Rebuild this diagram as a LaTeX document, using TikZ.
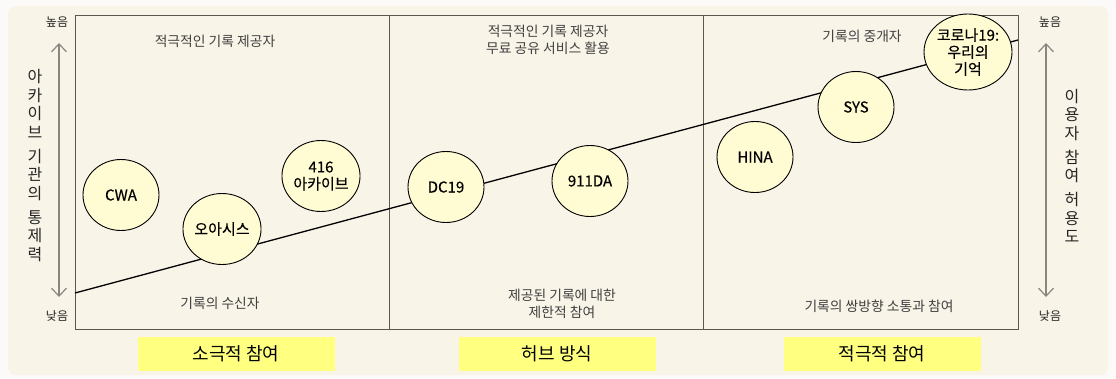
\documentclass[tikz,border=0pt]{standalone}
\usepackage{fontspec}
\setmainfont{Noto Sans CJK KR}
\newfontfamily\medfont[FakeBold=0.4]{Noto Sans CJK KR}
\usetikzlibrary{shapes.geometric,arrows.meta}
\definecolor{pagebg}{HTML}{FCFAF8}
\definecolor{cream}{HTML}{F9F4E8}
\definecolor{framegray}{HTML}{5E5650}
\definecolor{bubblefill}{HTML}{FFFBD2}
\definecolor{hilite}{HTML}{FFFF80}
\definecolor{axisgray}{HTML}{8A8580}

\begin{document}
\begin{tikzpicture}[x=1pt,y=-1pt,
  bubble/.style={ellipse, draw=black, line width=0.9pt, fill=bubblefill, minimum width=76pt, minimum height=71pt, inner sep=0pt, align=center, font=\medfont\fontsize{15}{17}\selectfont},
  role/.style={align=center, text=black!75, inner sep=0pt, font=\fontsize{13.8}{17}\selectfont},
  stage/.style={fill=hilite, minimum width=197pt, minimum height=34pt, inner sep=0pt, font=\fontsize{18}{20}\selectfont},
  level/.style={inner sep=0pt, text=black!85, font=\fontsize{12}{13}\selectfont},
  axistext/.style={align=center, inner sep=0pt, text=black!85, font=\fontsize{16}{18.5}\selectfont},
  axisarrow/.style={draw=axisgray, line width=1.2pt, {Straight Barb[length=8pt,width=15pt]}-{Straight Barb[length=8pt,width=15pt]}}]

  % background
  \useasboundingbox (0,0) rectangle (1116,378);
  \fill[pagebg] (0,0) rectangle (1116,378);
  \fill[cream, rounded corners=8pt] (8,6) rectangle (1108,375);

  % frame and panels
  \draw[framegray, line width=1pt] (75,15) rectangle (1018,329);
  \draw[framegray, line width=1pt] (389,15) -- (389,329);
  \draw[framegray, line width=1pt] (703,15) -- (703,329);

  % trend
  \coordinate (lo) at (75,293);
  \coordinate (hi) at (1018,40);
  \draw[line width=1.3pt] (lo) -- (hi);

  % archives
  \node[bubble] (cwa) at (121,195) {CWA};
  \node[bubble] (oasis) at (222,229) {오아시스};
  \node[bubble] (a416) at (321,176) {416\\아카이브};
  \node[bubble] (dc19) at (446,187) {DC19};
  \node[bubble] (da911) at (590,181) {911DA};
  \node[bubble] (hina) at (755,157) {HINA};
  \node[bubble] (sys) at (856,107) {SYS};
  \node[bubble, minimum height=76pt] (covid) at (968,52) {코로나19:\\우리의\\기억};

  % roles
  \node[role] (top1) at (215,41) {적극적인 기록 제공자};
  \node[role] (bot1) at (220,303) {기록의 수신자};
  \node[role] (top2) at (548,40) {적극적인 기록 제공자\\무료 공유 서비스 활용};
  \node[role] (bot2) at (562,304) {제공된 기록에 대한\\제한적 참여};
  \node[role] (top3) at (862,36) {기록의 중개자};
  \node[role] (bot3) at (879,306) {기록의 쌍방향 소통과 참여};

  % stages
  \node[stage] (passive) at (236,354) {소극적 참여};
  \node[stage] (hub) at (557,354) {허브 방식};
  \node[stage] (active) at (882,354) {적극적 참여};

  % left axis
  \node[level] (lhigh) at (57,22) {높음};
  \node[level] (llow) at (57,316) {낮음};
  \coordinate (ltop) at (59,43);
  \coordinate (lbot) at (59,297);
  \draw[axisarrow] (ltop) -- (lbot);
  \node[axistext] (lname) at (35,165.5) {아\\카\\이\\브\\[5.5pt]기\\관\\의\\[5.5pt]통\\제\\력};

  % right axis
  \node[level] (rhigh) at (1050,22) {높음};
  \node[level] (rlow) at (1050,316) {낮음};
  \coordinate (rtop) at (1046,43);
  \coordinate (rbot) at (1046,297);
  \draw[axisarrow] (rtop) -- (rbot);
  \node[axistext] (rname) at (1072,166) {이\\용\\자\\[5.5pt]참\\여\\[5.5pt]허\\용\\도};
\end{tikzpicture}
\end{document}
